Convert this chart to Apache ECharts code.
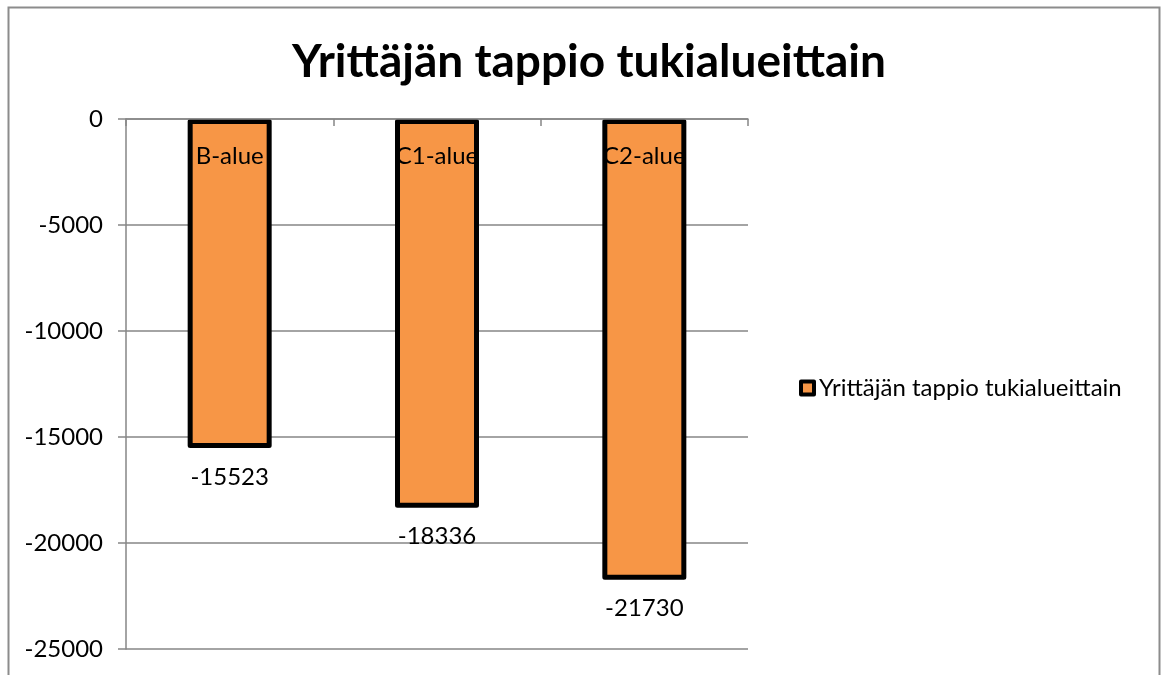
<!DOCTYPE html>
<html>
<head>
<meta charset="utf-8">
<script src="https://cdn.jsdelivr.net/npm/echarts@6/dist/echarts.min.js"></script>
<style>
  html, body { margin: 0; padding: 0; background: #fff; }
  #chart { width: 1162px; height: 675px; }
</style>
</head>
<body>
<div id="chart"></div>
<script>
// data
const categories = ['B-alue', 'C1-alue', 'C2-alue']
const seriesName = 'Yrittäjän tappio tukialueittain'
const losses = [-15523, -18336, -21730]
const yTicks = { min: -25000, max: 0, step: 5000 }

const font = 'Lato'
const myChart = echarts.init(document.getElementById('chart'))

const option = {
  backgroundColor: '#fff',
  textStyle: { fontFamily: font, color: '#000' },
  title: {
    text: 'Yrittäjän tappio tukialueittain',
    left: 584,
    top: 34,
    textAlign: 'center',
    textStyle: { fontFamily: font, fontSize: 46, fontWeight: 'bold', color: '#000' }
  },
  legend: {
    left: 794,
    top: 371,
    itemWidth: 13,
    itemHeight: 13,
    itemGap: 5,
    icon: 'rect',
    itemStyle: { borderColor: '#000', borderWidth: 4 },
    textStyle: { fontFamily: font, fontSize: 24, color: '#000', padding: [0, 0, 0, 0] },
    data: [seriesName]
  },
  grid: { left: 126, right: 414, top: 119, bottom: 26 },
  xAxis: {
    type: 'category',
    position: 'top',
    data: categories,
    z: 10,
    axisLine: { show: true, lineStyle: { color: '#868686', width: 1.5 } },
    axisTick: { show: true, inside: true, length: 7, lineStyle: { color: '#868686', width: 1.5 } },
    axisLabel: { inside: true, margin: 25, fontFamily: font, fontSize: 24, color: '#000' },
    splitLine: { show: false }
  },
  yAxis: {
    type: 'value',
    min: yTicks.min,
    max: yTicks.max,
    interval: yTicks.step,
    axisLine: { show: true, lineStyle: { color: '#868686', width: 1.5 } },
    axisTick: { show: true, length: 8, lineStyle: { color: '#868686', width: 1.5 } },
    axisLabel: { margin: 23, fontFamily: font, fontSize: 24, color: '#000', formatter: v => String(v) },
    splitLine: { show: true, lineStyle: { color: '#868686', width: 1.5 } }
  },
  series: [{
    name: seriesName,
    type: 'bar',
    data: losses,
    barWidth: 84,
    itemStyle: { color: '#F79646', borderColor: '#000', borderWidth: 5, borderJoin: 'round' },
    label: {
      show: true,
      position: 'bottom',
      distance: 17,
      fontFamily: font,
      fontSize: 24,
      color: '#000'
    }
  }],
  graphic: [{
    type: 'rect',
    shape: { x: 8.5, y: 7.5, width: 1151, height: 700 },
    style: { fill: null, stroke: '#8c8c8c', lineWidth: 2 },
    silent: true
  }]
}

myChart.setOption(option)
</script>
</body>
</html>
